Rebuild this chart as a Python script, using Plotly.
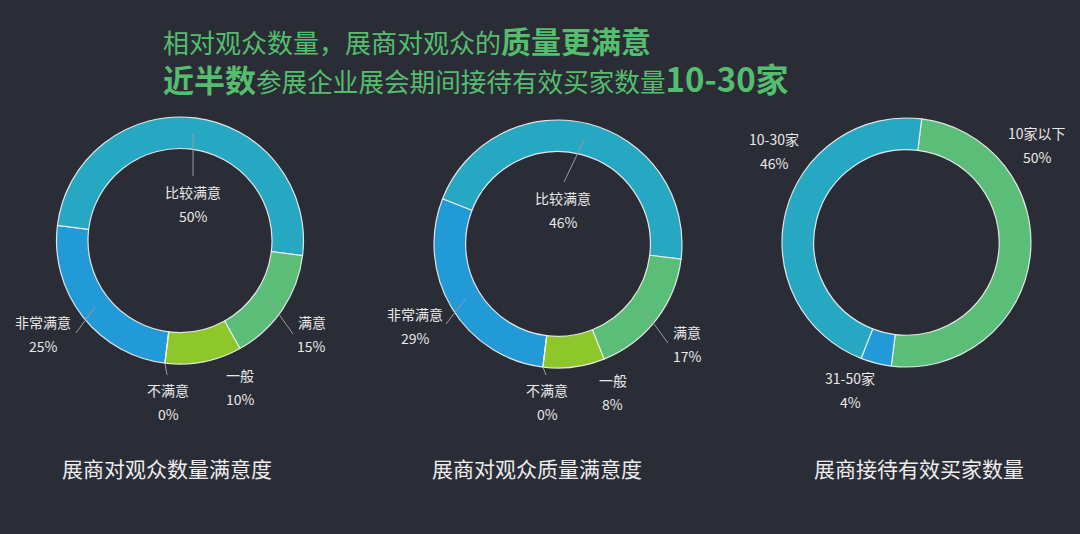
import math
import plotly.graph_objects as go

# ---------------- data ----------------
title_line1 = ["相对观众数量，展商对观众的", "质量更满意"]
title_line2 = ["近半数", "参展企业展会期间接待有效买家数量", "10-30家"]

sat_labels = ["非常满意", "比较满意", "满意", "一般", "不满意"]
qty_values = [25, 50, 15, 10, 0]      # 展商对观众数量满意度
qual_values = [29, 46, 17, 8, 0]      # 展商对观众质量满意度

buyer_labels = ["10家以下", "31-50家", "10-30家"]
buyer_values = [50, 4, 46]            # 展商接待有效买家数量

chart_titles = ["展商对观众数量满意度", "展商对观众质量满意度", "展商接待有效买家数量"]

# ---------------- styles / layout ----------------
W, H = 1080, 534
BG = "#2b2d36"
GREEN_TITLE = "#55bd6e"
sat_colors = ["#229ad8", "#27a8c2", "#5bbe78", "#8dc72a", "#e8463c"]
buyer_colors = ["#5bbe78", "#229ad8", "#27a8c2"]
HOLE = 0.745
CJK = "Microsoft YaHei, Noto Sans CJK SC, sans-serif"

# pie geometry in pixels: (cx, cy, r, rotation)
pies = [
    dict(labels=sat_labels, values=qty_values, colors=sat_colors, cx=180, cy=240.5, r=123.5, rot=187),
    dict(labels=sat_labels, values=qual_values, colors=sat_colors, cx=558, cy=244, r=124, rot=187),
    dict(labels=buyer_labels, values=buyer_values, colors=buyer_colors, cx=906.5, cy=242.5, r=124.5, rot=7),
]

# label placement (pixel centre of the name line) and optional leader end, per pie
label_pos = [
    {"比较满意": (193, 192, (193, 176)), "满意": (312, 322, (293, 334)), "一般": (240, 375, None),
     "不满意": (168, 390, (167, 375)), "非常满意": (43, 322, (76, 333))},
    {"比较满意": (563, 198, (564, 182)), "满意": (687, 332, (668, 343)), "一般": (613, 380, None),
     "不满意": (547, 390, (546, 375)), "非常满意": (415, 314, (446, 324))},
    {"10家以下": (1037, 133, None), "31-50家": (850, 378, None), "10-30家": (774, 139, None)},
]
caption_pos = [(167, 468), (537, 468), (919, 468)]
LINE_GAP = 24


def px(x):
    return x / W


def py(y):
    return 1 - y / H


fig = go.Figure()
annotations = []
shapes = []

for i, p in enumerate(pies):
    fig.add_trace(go.Pie(
        labels=p["labels"], values=p["values"], sort=False, direction="clockwise",
        rotation=p["rot"], hole=HOLE, textinfo="none", hoverinfo="label+percent",
        marker=dict(colors=p["colors"], line=dict(color="rgba(235,235,235,0.95)", width=1.2)),
        domain=dict(x=[px(p["cx"] - p["r"]), px(p["cx"] + p["r"])],
                    y=[py(p["cy"] + p["r"]), py(p["cy"] - p["r"])]),
        showlegend=False,
    ))
    total = sum(p["values"])
    start = 90 - p["rot"]  # math angle in degrees
    r_mid = p["r"] * (1 + HOLE) / 2
    for lab, val in zip(p["labels"], p["values"]):
        span = 360 * val / total
        mid = start - span / 2
        start -= span
        lx, ly, lead = label_pos[i][lab]
        pct = f"{round(100 * val / total)}%"
        annotations.append(dict(x=px(lx), y=py(ly), xref="paper", yref="paper", text=lab,
                                xanchor="center", yanchor="middle", showarrow=False,
                                font=dict(size=14, color="#e8e8e8", family=CJK)))
        annotations.append(dict(x=px(lx), y=py(ly + LINE_GAP), xref="paper", yref="paper", text=pct,
                                xanchor="center", yanchor="middle", showarrow=False,
                                font=dict(size=14, color="#e8e8e8", family=CJK)))
        if lead is not None:
            rr = r_mid if val > 0 else p["r"]
            sx = p["cx"] + rr * math.cos(math.radians(mid))
            sy = p["cy"] - rr * math.sin(math.radians(mid))
            shapes.append(dict(type="line", xref="paper", yref="paper",
                               x0=px(sx), y0=py(sy), x1=px(lead[0]), y1=py(lead[1]),
                               line=dict(color="#9a9ca3", width=1)))

for t, (cx, cy) in zip(chart_titles, caption_pos):
    annotations.append(dict(x=px(cx), y=py(cy), xref="paper", yref="paper", text=t, showarrow=False,
                            xanchor="center", yanchor="middle",
                            font=dict(size=21, color="#ececec", family=CJK)))

t1 = (f"<span style='font-size:26px'>{title_line1[0]}</span>"
      f"<b style='font-size:30px'>{title_line1[1]}</b>")
t2 = (f"<b style='font-size:31px'>{title_line2[0]}</b>"
      f"<span style='font-size:25.6px'>{title_line2[1]}</span>"
      f"<b style='font-size:33px'>{title_line2[2]}</b>")
annotations.append(dict(x=px(161), y=py(40), xref="paper", yref="paper", text=t1, showarrow=False,
                        xanchor="left", yanchor="middle", font=dict(size=26, color=GREEN_TITLE, family=CJK)))
annotations.append(dict(x=px(161), y=py(78), xref="paper", yref="paper", text=t2, showarrow=False,
                        xanchor="left", yanchor="middle", font=dict(size=26, color=GREEN_TITLE, family=CJK)))

fig.update_layout(
    width=W, height=H, margin=dict(l=0, r=0, t=0, b=0),
    paper_bgcolor=BG, plot_bgcolor=BG,
    annotations=annotations, shapes=shapes,
)
fig.write_html("out.html", config={"displayModeBar": False},
               post_script="document.body.style.margin='0';document.body.style.background='%s';" % BG)
